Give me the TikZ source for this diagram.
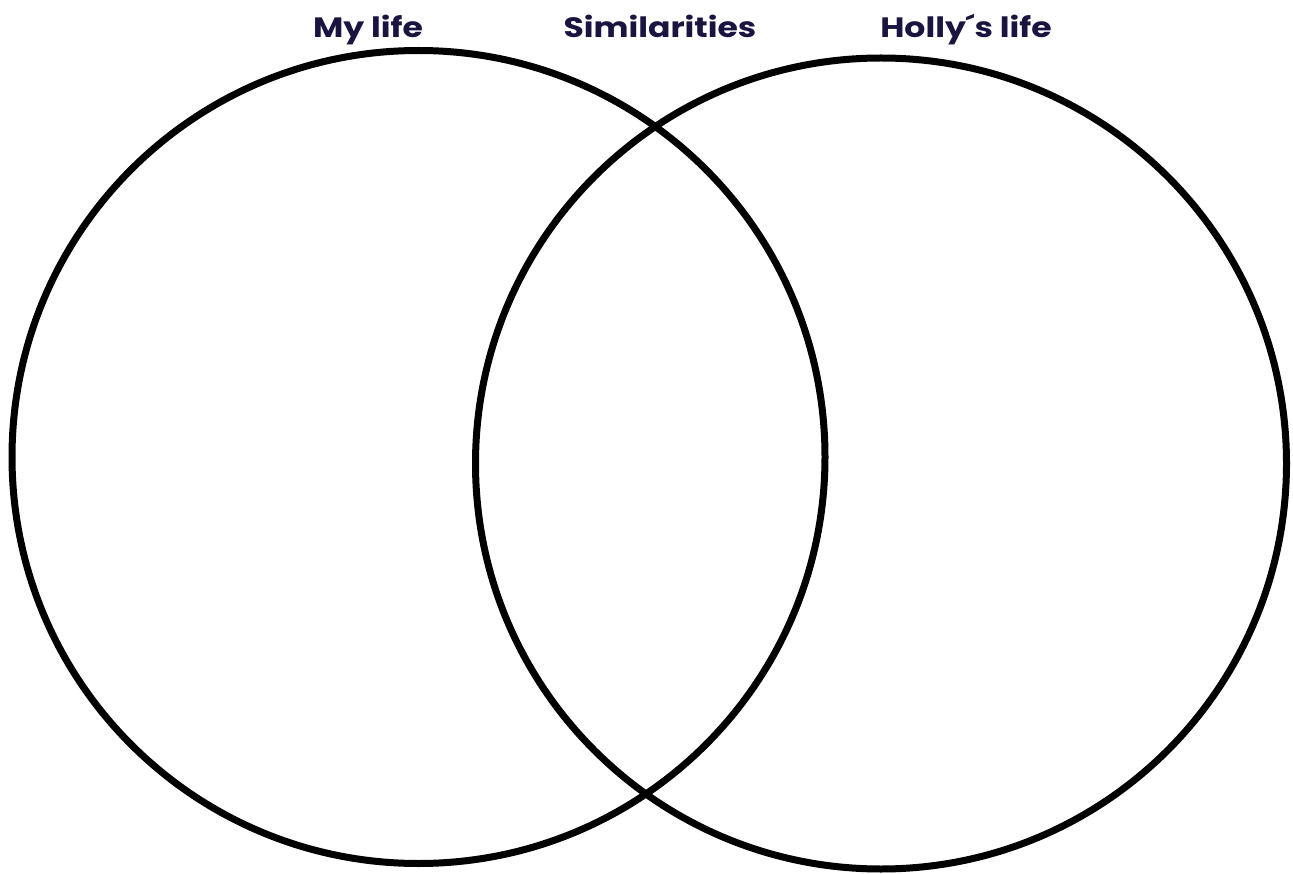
\documentclass[tikz,border=0pt]{standalone}
\usepackage{fontspec}
\setmainfont{Poppins}
\definecolor{ink}{HTML}{1A1440}
\begin{document}
\begin{tikzpicture}[x=1pt,y=-1pt,
  ring/.style={draw=black,line width=7pt},
  title/.style={text=ink,font=\fontsize{28}{32}\selectfont\bfseries,inner sep=0pt,anchor=base,xscale=1.18}]
\useasboundingbox[fill=white] (0,0) rectangle (1293,874);
\node[ring,circle,minimum size=813pt,inner sep=0pt] (left) at (418.5,457) {};
\node[ring,circle,minimum size=811pt,inner sep=0pt] (right) at (881,463.5) {};
\node[title] (my) at (368,38) {My life};
\node[title] (sim) at (660,38) {Similarities};
\node[title] (holly) at (966,38) {Holly´s life};
\end{tikzpicture}
\end{document}
